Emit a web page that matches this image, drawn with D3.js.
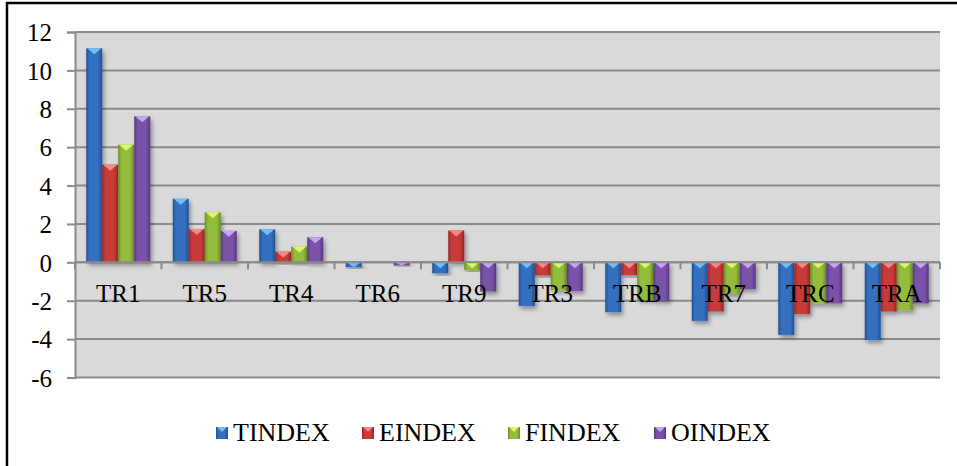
<!DOCTYPE html>
<html><head><meta charset="utf-8">
<script src="https://cdn.jsdelivr.net/npm/d3@7"></script>
<style>
html,body{margin:0;padding:0;background:#fff;}
svg{display:block;}
</style></head>
<body>
<svg id="chart" width="957" height="466"></svg>
<script>
const categories = ["TR1","TR5","TR4","TR6","TR9","TR3","TRB","TR7","TRC","TRA"];
const seriesNames = ["TINDEX","EINDEX","FINDEX","OINDEX"];
const TINDEX = [11.15, 3.31, 1.72, -0.26, -0.57, -2.28, -2.60, -3.05, -3.78, -4.05];
const EINDEX = [5.09, 1.74, 0.56, 0.0, 1.66, -0.68, -0.66, -2.56, -2.70, -2.56];
const FINDEX = [6.13, 2.61, 0.82, 0.0, -0.40, -1.45, -1.95, -1.65, -2.14, -2.49];
const OINDEX = [7.61, 1.64, 1.31, -0.17, -1.52, -1.50, -2.00, -1.39, -2.14, -2.14];
const yTicks = [-6,-4,-2,0,2,4,6,8,10,12];
const seriesValues = [TINDEX, EINDEX, FINDEX, OINDEX];
const colors = ["#3470C0","#C93A3A","#93BC3C","#7A52A8"];
const darkColors = ["#1F4F96","#962424","#6A8E22","#573680"];
const lightColors = ["#74BEF5","#F58A84","#DDF56A","#C8A4F5"];
const FONT = "'Liberation Serif', 'Times New Roman', Times, 'DejaVu Serif', serif";

const svg = d3.select("#chart");
const defs = svg.append("defs");
const W = 957, H = 466;
const plot = {left:75, right:940, top:32, bottom:377.5};

// outer frame (left and top visible)
svg.append("path").attr("d", `M7,${H} L7,3 L${W},3`).attr("fill","none").attr("stroke","#000").attr("stroke-width",2.5);

const y = d3.scaleLinear().domain([-6,12]).range([plot.bottom, plot.top]);
const x0 = d3.scaleBand().domain(categories).range([plot.left, plot.right]).paddingInner(0.26).paddingOuter(0.13);
const x1 = d3.scaleBand().domain(seriesNames).range([0, x0.bandwidth()]);

// gradients
seriesNames.forEach((s,i)=>{
  const g = defs.append("linearGradient").attr("id","g"+i).attr("x1","0").attr("x2","1").attr("y1","0").attr("y2","0");
  g.append("stop").attr("offset","0").attr("stop-color",darkColors[i]);
  g.append("stop").attr("offset","0.2").attr("stop-color",colors[i]);
  g.append("stop").attr("offset","0.75").attr("stop-color",colors[i]);
  g.append("stop").attr("offset","1").attr("stop-color",darkColors[i]);
});
const f = defs.append("filter").attr("id","shadow").attr("x","-30%").attr("y","-10%").attr("width","170%").attr("height","130%");
f.append("feDropShadow").attr("dx",2).attr("dy",3).attr("stdDeviation",2).attr("flood-color","#000").attr("flood-opacity",0.35);

// plot background
svg.append("rect").attr("x",plot.left).attr("y",plot.top).attr("width",plot.right-plot.left).attr("height",plot.bottom-plot.top).attr("fill","#D9D9D9");

// gridlines
svg.append("g").selectAll("line").data(yTicks).join("line")
  .attr("x1",plot.left).attr("x2",plot.right)
  .attr("y1",d=>y(d)).attr("y2",d=>y(d))
  .attr("stroke","#8A8A8A").attr("stroke-width",2);

// y axis
const yAxis = svg.append("g").attr("transform",`translate(${plot.left},0)`)
  .call(d3.axisLeft(y).tickValues(yTicks).tickSize(8).tickPadding(15).tickFormat(d=>d<0?"-"+Math.abs(d):d));
yAxis.attr("font-family",null).attr("font-size",null);
yAxis.select(".domain").attr("stroke","#8A8A8A").attr("stroke-width",2);
yAxis.selectAll(".tick line").attr("stroke","#8A8A8A").attr("stroke-width",2);
yAxis.selectAll(".tick text").style("font-size","25px").style("font-family",FONT).attr("fill","#000").attr("dy","0.35em");

// bars
const step = x0.step();
const groups = svg.append("g").selectAll("g").data(categories).join("g")
  .attr("transform",c=>`translate(${x0(c)},0)`);
groups.each(function(c,ci){
  const g = d3.select(this);
  seriesNames.forEach((s,si)=>{
    const v = seriesValues[si][ci];
    const bx = x1(s), bw = x1.bandwidth();
    const top = y(Math.max(0,v)), bot = y(Math.min(0,v));
    const h = Math.max(0, bot-top);
    if (h < 0.5) return;
    g.append("rect").attr("x",bx).attr("y",top).attr("width",bw).attr("height",h)
      .attr("fill",`url(#g${si})`).attr("filter","url(#shadow)");
    const th = Math.min(6, h);
    g.append("path")
      .attr("d",`M${bx+1},${top} L${bx+bw-1},${top} L${bx+bw/2},${top+th} Z`)
      .attr("fill",lightColors[si]);
  });
});

// x axis line at zero with tick marks at band boundaries
svg.append("line").attr("x1",plot.left).attr("x2",plot.right).attr("y1",y(0)).attr("y2",y(0))
  .attr("stroke","#8A8A8A").attr("stroke-width",2);
const bounds = d3.range(categories.length+1).map(i=>plot.left + i*step);
svg.append("g").selectAll("line").data(bounds).join("line")
  .attr("x1",d=>d).attr("x2",d=>d).attr("y1",y(0)).attr("y2",y(0)+7)
  .attr("stroke","#8A8A8A").attr("stroke-width",2);

// category labels
svg.append("g").selectAll("text").data(categories).join("text")
  .attr("x",c=>x0(c)+x0.bandwidth()/2).attr("y",302)
  .attr("text-anchor","middle").style("font-size","25px").style("font-family",FONT).attr("fill","#000").text(c=>c);

// legend (evenly spaced entries)
const legendStart = 216, legendStep = 146;
const lg = svg.append("g").selectAll("g").data(seriesNames).join("g")
  .attr("transform",(d,i)=>`translate(${legendStart + i*legendStep},0)`);
lg.append("rect").attr("x",0).attr("y",427).attr("width",12).attr("height",12).attr("fill",(d,i)=>`url(#g${i})`);
lg.append("path").attr("d","M1,427 L11,427 L6,432 Z").attr("fill",(d,i)=>lightColors[i]);
lg.append("text").attr("x",17).attr("y",441).style("font-size","26px").style("font-family",FONT).attr("fill","#000").text(d=>d);
</script>
</body></html>
